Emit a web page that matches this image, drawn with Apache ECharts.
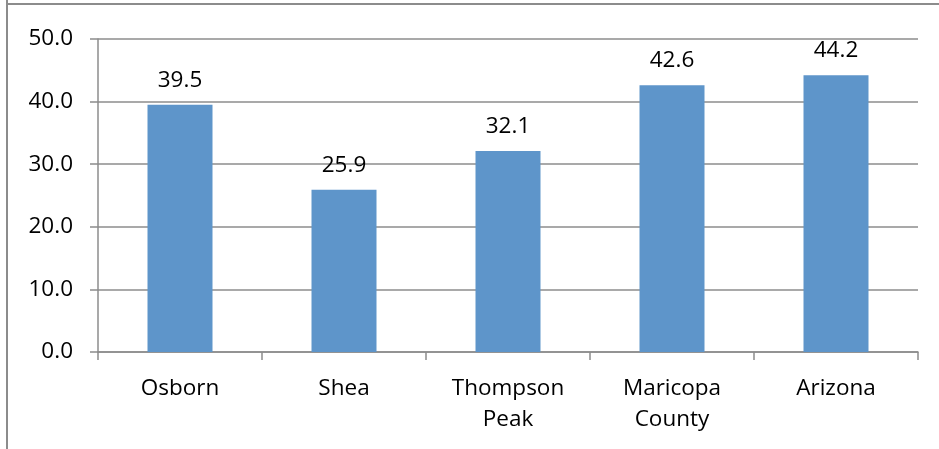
<!DOCTYPE html>
<html><head><meta charset="utf-8">
<script src="https://cdn.jsdelivr.net/npm/echarts@6/dist/echarts.min.js"></script>
<style>html,body{margin:0;padding:0;background:#fff}#c{width:939px;height:449px}</style>
</head><body><div id="c"></div>
<script>
var categories = ['Osborn', 'Shea', 'Thompson\nPeak', 'Maricopa\nCounty', 'Arizona'];
var values = [39.5, 25.9, 32.1, 42.6, 44.2];
var yTicks = {min: 0, max: 50, interval: 10};

var chart = echarts.init(document.getElementById('c'));
var font = '"Open Sans", "Liberation Sans", sans-serif';
chart.setOption({
  animation: false,
  backgroundColor: '#ffffff',
  grid: {left: 98, right: 21, top: 39, bottom: 97},
  xAxis: {
    type: 'category', data: categories,
    axisLine: {lineStyle: {color: '#8c8c8c', width: 1.5}},
    axisTick: {show: true, length: 8, interval: 0, lineStyle: {color: '#8c8c8c', width: 1.5}},
    axisLabel: {color: '#000', fontSize: 22.5, fontFamily: font, margin: 21, lineHeight: 31, interval: 0}
  },
  yAxis: {
    type: 'value', min: yTicks.min, max: yTicks.max, interval: yTicks.interval,
    axisLine: {show: true, lineStyle: {color: '#8c8c8c', width: 1.5}},
    axisTick: {show: true, length: 8, lineStyle: {color: '#8c8c8c', width: 1.5}},
    axisLabel: {color: '#000', fontSize: 22.5, fontFamily: font, margin: 25,
      formatter: function (v) { return v.toFixed(1); }},
    splitLine: {lineStyle: {color: '#8c8c8c', width: 1.5}}
  },
  series: [{
    type: 'bar', data: values, barWidth: 65,
    itemStyle: {color: '#5e95ca'},
    label: {show: true, position: 'top', distance: 13, color: '#000', fontSize: 22.5, fontFamily: font,
      formatter: function (p) { return p.value.toFixed(1); }}
  }],
  graphic: [
    {type: 'line', shape: {x1: 7, y1: 0, x2: 7, y2: 449}, style: {stroke: '#8c8c8c', lineWidth: 2}},
    {type: 'line', shape: {x1: 7, y1: 4, x2: 939, y2: 4}, style: {stroke: '#8c8c8c', lineWidth: 2}}
  ]
});
</script></body></html>
